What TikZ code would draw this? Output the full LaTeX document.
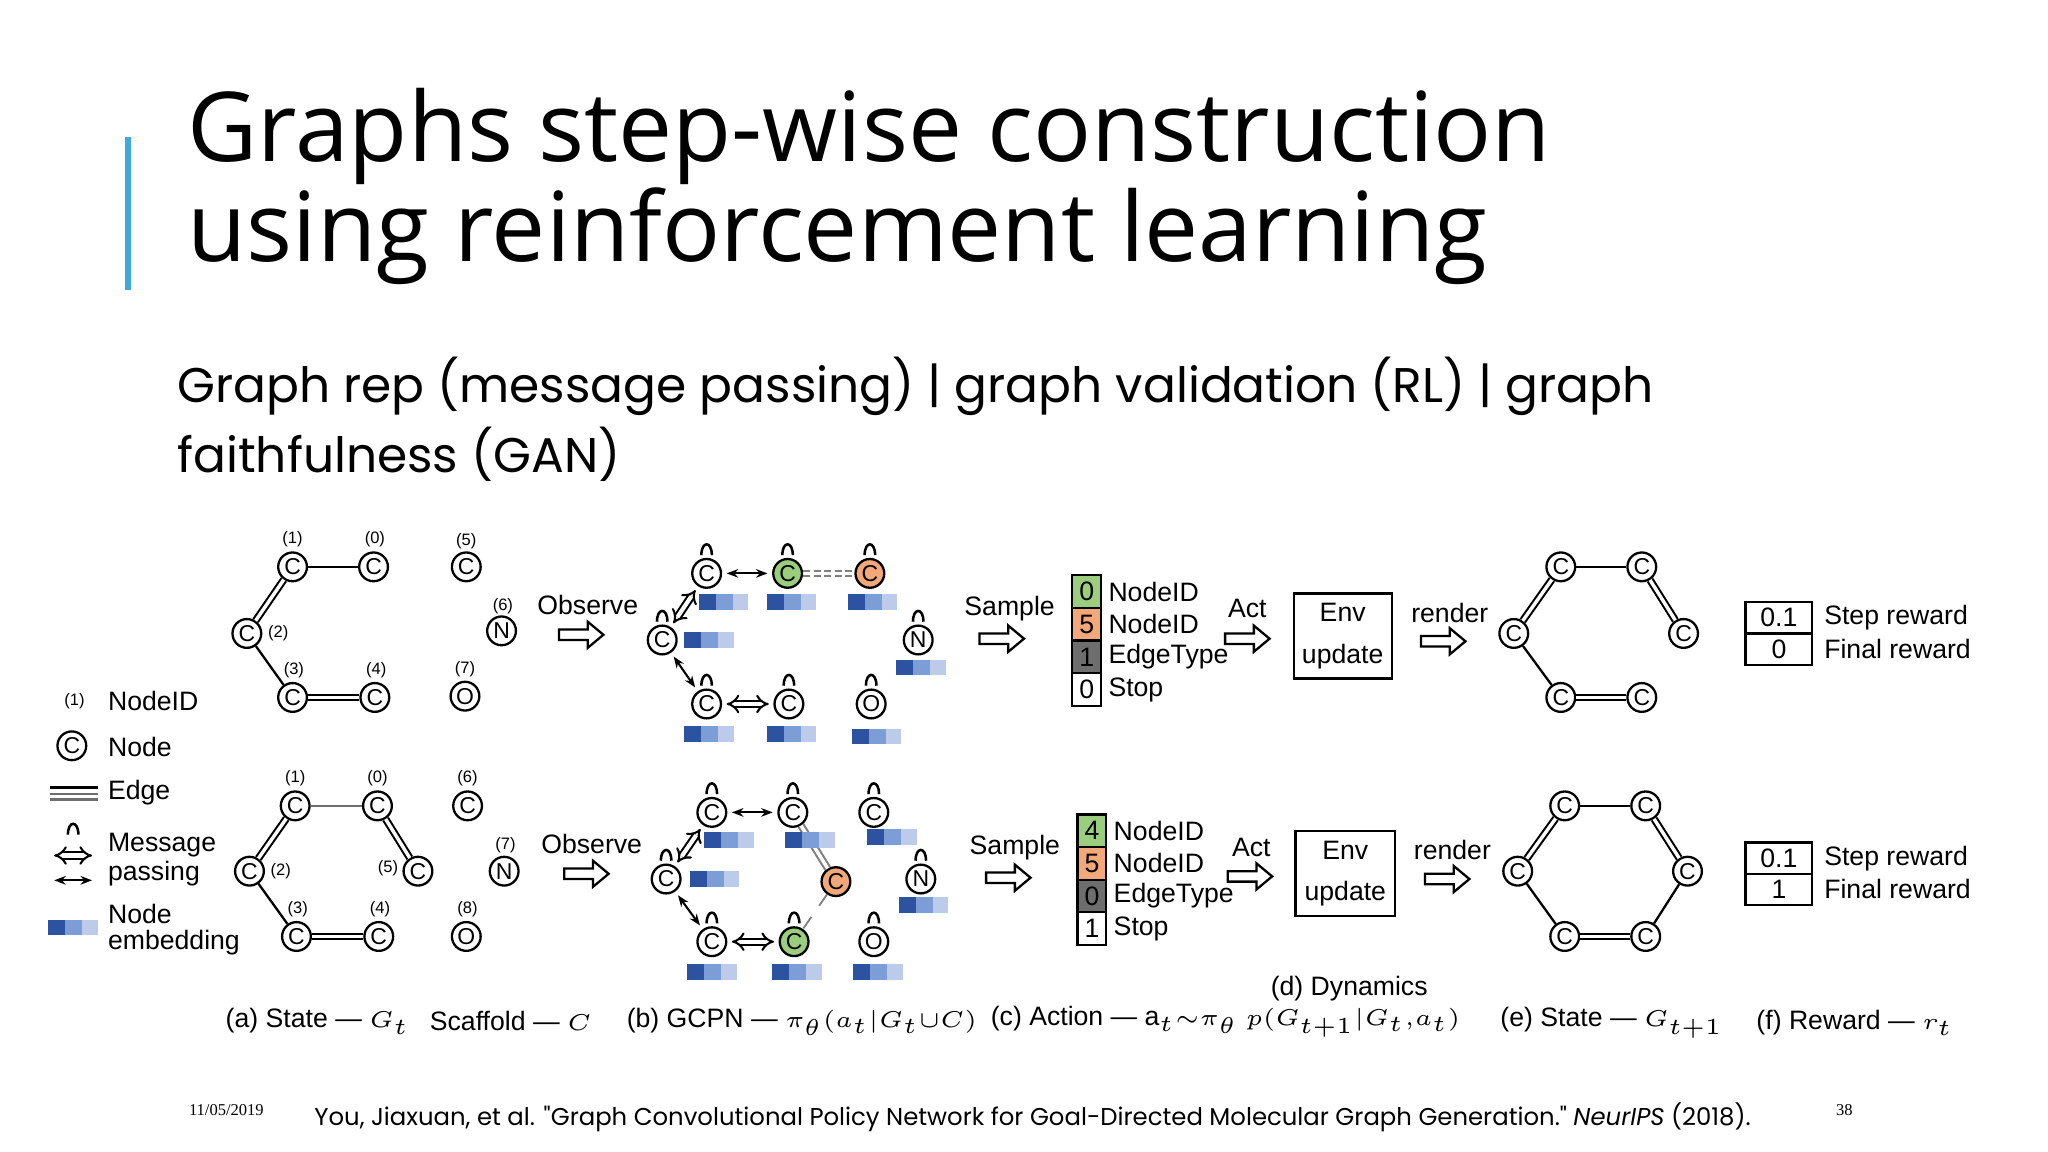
\documentclass[tikz,border=0pt]{standalone}
\usepackage{fontspec}
\setmainfont{Liberation Sans}
\newfontfamily\titlefont{Open Sans}
\newfontfamily\subfont{Poppins}
\newfontfamily\datefont{Liberation Serif}
\usetikzlibrary{arrows.meta}
\definecolor{e1}{HTML}{2C52A0}
\definecolor{e2}{HTML}{7D9DD6}
\definecolor{e3}{HTML}{BCCBEA}
\definecolor{gr}{HTML}{9ACD7E}
\definecolor{orr}{HTML}{F2A878}
\definecolor{dk}{HTML}{6E6E6E}
\definecolor{acc}{HTML}{3FA9D9}
\tikzset{
 atm/.style={circle,draw,line width=0.5pt,minimum size=0.22cm,inner sep=0pt,font=\fontsize{5}{5}\selectfont},
 idl/.style={font=\fontsize{3.6}{4}\selectfont,inner sep=0pt},
 lab/.style={font=\fontsize{5.8}{6.5}\selectfont,inner sep=0pt},
 sg/.style={line width=0.5pt},
 db/.style={double,double distance=0.75pt,line width=0.45pt},
 mp/.style={double,double distance=0.9pt,line width=0.45pt,{Implies}-{Implies},shorten <=1pt,shorten >=1pt},
 tn/.style={line width=0.45pt,{Stealth[length=2.5pt]}-{Stealth[length=2.5pt]},shorten <=1pt,shorten >=1pt},
 bx/.style={draw,line width=0.5pt,inner sep=0pt},
}
\newcommand\harrow[2]{\draw[line width=0.5pt] (#1-17,#2-4) -- (#1+5,#2-4) -- (#1+5,#2-10) -- (#1+17,#2) -- (#1+5,#2+10) -- (#1+5,#2+4) -- (#1-17,#2+4) -- cycle;}
\newcommand\emb[2]{\fill[e1] (#1-19,#2-6) rectangle (#1-6,#2+6);\fill[e2] (#1-6,#2-6) rectangle (#1+7,#2+6);\fill[e3] (#1+7,#2-6) rectangle (#1+19,#2+6);}
\newcommand\msg[2]{\draw[line width=0.55pt] (#1-4,#2-14) .. controls (#1-4,#2-25) and (#1+4,#2-25) .. (#1+4,#2-14);}
\newcommand\act[6]{% x y v1 v2 v3 v4
 \node[bx,fill=gr,minimum width=0.22cm,minimum height=0.25cm,font=\fontsize{5.8}{6}\selectfont] at (#1,#2) {#3};
 \node[bx,fill=orr,minimum width=0.22cm,minimum height=0.25cm,font=\fontsize{5.8}{6}\selectfont] at (#1,#2+25) {#4};
 \node[bx,fill=dk,minimum width=0.22cm,minimum height=0.25cm,font=\fontsize{5.8}{6}\selectfont] at (#1,#2+50) {#5};
 \node[bx,fill=white,minimum width=0.22cm,minimum height=0.25cm,font=\fontsize{5.8}{6}\selectfont] at (#1,#2+75) {#6};
 \node[lab,anchor=west] at (#1+16,#2) {NodeID};
 \node[lab,anchor=west] at (#1+16,#2+25) {NodeID};
 \node[lab,anchor=west] at (#1+16,#2+50) {EdgeType};
 \node[lab,anchor=west] at (#1+16,#2+75) {Stop};}
\begin{document}
\begin{tikzpicture}[x=0.01cm,y=-0.01cm]
\useasboundingbox[fill=white] (0,0) rectangle (1568,882);
% title
\draw[acc,line width=1.2pt] (98,105) -- (98,222);
\node[anchor=base west,inner sep=0pt,font=\titlefont\fontsize{21}{24}\selectfont] (t1) at (143,124) {Graphs step-wise construction};
\node[anchor=base west,inner sep=0pt,font=\titlefont\fontsize{21}{24}\selectfont] (t2) at (143,200) {using reinforcement learning};
\node[anchor=base west,inner sep=0pt,font=\subfont\fontsize{10.6}{12}\selectfont] (s1) at (135,308) {Graph rep (message passing) | graph validation (RL) | graph};
\node[anchor=base west,inner sep=0pt,font=\subfont\fontsize{10.6}{12}\selectfont] (s2) at (135,362) {faithfulness (GAN)};
\node[anchor=base west,inner sep=0pt,font=\datefont\fontsize{3.6}{4}\selectfont] (dt) at (144,854) {11/05/2019};
\node[anchor=base west,inner sep=0pt,font=\subfont\fontsize{5.3}{6}\selectfont] (cit) at (240,862) {You, Jiaxuan, et al. "Graph Convolutional Policy Network for Goal-Directed Molecular Graph Generation." \textit{NeurIPS} (2018).};
\node[anchor=base west,inner sep=0pt,font=\datefont\fontsize{3.6}{4}\selectfont] (pg) at (1405,854) {38};

% ---------- legend
\node[idl] (l1) at (57,537) {(1)};
\node[lab,anchor=west] (l1t) at (82,537) {NodeID};
\node[atm] (lC) at (55,571) {C};
\node[lab,anchor=west] (l2t) at (82,572) {Node};
\draw[line width=0.6pt] (38,603) -- (75,603);
\draw[db,draw=dk] (38,610) -- (75,610);
\node[lab,anchor=west] (l3t) at (82,607) {Edge};
\msg{56}{653}
\coordinate (m1) at (38,655); \coordinate (m2) at (74,655);
\draw[mp] (m1) -- (m2);
\coordinate (m3) at (38,674); \coordinate (m4) at (74,674);
\draw[tn] (m3) -- (m4);
\node[lab,anchor=west] (l4t) at (82,647) {Message};
\node[lab,anchor=west] (l4u) at (82,669) {passing};
\emb{56}{710}
\node[lab,anchor=west] (l5t) at (82,700) {Node};
\node[lab,anchor=west] (l5u) at (82,722) {embedding};

% ---------- top (a)
\node[atm] (a1) at (224,434) {C}; \node[idl] at (224,413) {(1)};
\node[atm] (a0) at (286,434) {C}; \node[idl] at (287,413) {(0)};
\node[atm] (a5) at (357,434) {C}; \node[idl] at (357,414) {(5)};
\node[atm] (a2) at (189,485) {C}; \node[idl] at (213,485) {(2)};
\node[atm] (a6) at (384,483) {N}; \node[idl] at (385,464) {(6)};
\node[atm] (a3) at (224,534) {C}; \node[idl] at (225,513) {(3)};
\node[atm] (a4) at (287,534) {C}; \node[idl] at (288,513) {(4)};
\node[atm] (a7) at (356,533) {O}; \node[idl] at (356,512) {(7)};
\draw[sg] (a1) -- (a0); \draw[db] (a1) -- (a2); \draw[sg] (a2) -- (a3); \draw[db] (a3) -- (a4);
\node[lab] (ob1) at (450,463) {Observe}; \harrow{445}{486}

% top (b)
\node[atm] (b1) at (541,439) {C};
\node[atm,fill=gr] (b0) at (603,439) {C};
\node[atm,fill=orr] (b5) at (666,439) {C};
\node[atm] (b2) at (507,490) {C};
\node[atm] (b6) at (703,490) {N};
\node[atm] (b3) at (541,539) {C};
\node[atm] (b4) at (604,539) {C};
\node[atm] (b7) at (667,539) {O};
\msg{541}{439}\msg{603}{439}\msg{666}{439}\msg{507}{490}\msg{703}{490}\msg{541}{539}\msg{604}{539}\msg{667}{539}
\draw[tn] (b1) -- (b0);
\draw[draw=gray,line width=0.45pt,dash pattern=on 1.5pt off 0.8pt] ([yshift=0.6pt]b0.east) -- ([yshift=0.6pt]b5.west);
\draw[draw=gray,line width=0.45pt,dash pattern=on 1.5pt off 0.8pt] ([yshift=-0.6pt]b0.east) -- ([yshift=-0.6pt]b5.west);
\draw[mp] (b2) -- (b1);
\draw[tn] (b2) -- (b3);
\draw[mp] (b3) -- (b4);
\emb{554}{461}\emb{606}{461}\emb{668}{461}\emb{543}{490}\emb{705}{511}\emb{543}{562}\emb{606}{562}\emb{671}{564}
\node[lab] (sa1) at (773,466) {Sample}; \harrow{767}{489}
\act{832}{453}{0}{5}{1}{0}
\node[lab] (ac1) at (955,466) {Act}; \harrow{955}{489}
\node[bx,minimum width=0.75cm,minimum height=0.65cm,align=center,font=\fontsize{5.8}{9}\selectfont] (env1) at (1028,487) {Env\\update};
\node[lab] (re1) at (1110,469) {render}; \harrow{1105}{491}
\node[atm] (c1) at (1195,434) {C}; \node[atm] (c2) at (1257,434) {C};
\node[atm] (c3) at (1159,485) {C}; \node[atm] (c4) at (1289,485) {C};
\node[atm] (c5) at (1195,534) {C}; \node[atm] (c6) at (1257,534) {C};
\draw[sg] (c1) -- (c2); \draw[db] (c1) -- (c3); \draw[db] (c2) -- (c4); \draw[sg] (c3) -- (c5); \draw[db] (c5) -- (c6);
\node[bx,minimum width=0.51cm,minimum height=0.245cm,font=\fontsize{5.8}{6}\selectfont] (r1a) at (1362,473) {0.1};
\node[bx,minimum width=0.51cm,minimum height=0.245cm,font=\fontsize{5.8}{6}\selectfont] (r1b) at (1362,497) {0};
\node[lab,anchor=west] at (1396,473) {Step reward};
\node[lab,anchor=west] at (1396,497) {Final reward};

% ---------- bottom (a)
\node[atm] (d1) at (226,617) {C}; \node[idl] at (226,596) {(1)};
\node[atm] (d0) at (289,617) {C}; \node[idl] at (289,596) {(0)};
\node[atm] (d6) at (358,617) {C}; \node[idl] at (358,596) {(6)};
\node[atm] (d2) at (191,667) {C}; \node[idl] at (215,667) {(2)};
\node[atm] (d5) at (320,667) {C}; \node[idl] at (297,665) {(5)};
\node[atm] (d7) at (386,667) {N}; \node[idl] at (387,647) {(7)};
\node[atm] (d3) at (227,717) {C}; \node[idl] at (228,696) {(3)};
\node[atm] (d4) at (290,717) {C}; \node[idl] at (291,696) {(4)};
\node[atm] (d8) at (357,717) {O}; \node[idl] at (358,696) {(8)};
\draw[sg,draw=dk] (d1) -- (d0); \draw[db] (d1) -- (d2); \draw[db] (d0) -- (d5); \draw[sg] (d2) -- (d3); \draw[db] (d3) -- (d4);
\node[lab] (ob2) at (453,646) {Observe}; \harrow{449}{669}

% bottom (b)
\node[atm] (g1) at (545,622) {C};
\node[atm] (g0) at (607,622) {C};
\node[atm] (g6) at (669,622) {C};
\node[atm] (g2) at (510,673) {C};
\node[atm,fill=orr] (g5) at (640,675) {C};
\node[atm] (g7) at (705,673) {N};
\node[atm] (g3) at (545,721) {C};
\node[atm,fill=gr] (g4) at (608,721) {C};
\node[atm] (g8) at (669,721) {O};
\msg{545}{622}\msg{607}{622}\msg{669}{622}\msg{510}{673}\msg{705}{673}\msg{545}{721}\msg{608}{721}\msg{669}{721}
\draw[tn] (g1) -- (g0);
\draw[db,draw=gray] (g0) -- (g5);
\draw[dashed,draw=gray,line width=0.4pt] (g5) -- (g4);
\draw[mp] (g2) -- (g1);
\draw[tn] (g2) -- (g3);
\draw[mp] (g3) -- (g4);
\emb{558}{643}\emb{620}{643}\emb{683}{641}\emb{547}{673}\emb{707}{693}\emb{545}{744}\emb{610}{744}\emb{672}{744}
\node[lab] (sa2) at (777,649) {Sample}; \harrow{772}{672}
\act{836}{636}{4}{5}{0}{1}
\node[lab] (ac2) at (958,649) {Act}; \harrow{957}{671}
\node[bx,minimum width=0.76cm,minimum height=0.65cm,align=center,font=\fontsize{5.8}{9}\selectfont] (env2) at (1030,669) {Env\\update};
\node[lab] (re2) at (1112,651) {render}; \harrow{1108}{673}
\node[atm] (h1) at (1198,617) {C}; \node[atm] (h2) at (1260,617) {C};
\node[atm] (h3) at (1162,667) {C}; \node[atm] (h4) at (1292,667) {C};
\node[atm] (h5) at (1198,717) {C}; \node[atm] (h6) at (1260,717) {C};
\draw[sg] (h1) -- (h2); \draw[db] (h1) -- (h3); \draw[db] (h2) -- (h4); \draw[sg] (h3) -- (h5); \draw[sg] (h4) -- (h6); \draw[db] (h5) -- (h6);
\node[bx,minimum width=0.51cm,minimum height=0.24cm,font=\fontsize{5.8}{6}\selectfont] (r2a) at (1362,657) {0.1};
\node[bx,minimum width=0.51cm,minimum height=0.24cm,font=\fontsize{5.8}{6}\selectfont] (r2b) at (1362,681) {1};
\node[lab,anchor=west] at (1396,657) {Step reward};
\node[lab,anchor=west] at (1396,681) {Final reward};

% captions
\node[lab] (ca) at (243,782) {(a) State --- $\scriptstyle G_t$};
\node[lab] (cs) at (391,782) {Scaffold --- $\scriptstyle C$};
\node[lab] (cb) at (614,782) {(b) GCPN --- $\scriptstyle\pi_\theta(a_t|G_t\cup C)$};
\node[lab] (cc) at (853,781) {(c) Action --- a$\scriptstyle_t\sim\pi_\theta$};
\node[lab] (cd) at (1033,757) {(d) Dynamics};
\node[lab] (cd2) at (1036,783) {$\scriptstyle p(G_{t+1}|G_t,a_t)$};
\node[lab] (ce) at (1234,783) {(e) State --- $\scriptstyle G_{t+1}$};
\node[lab] (cf) at (1420,783) {(f) Reward --- $\scriptstyle r_t$};
\end{tikzpicture}
\end{document}
